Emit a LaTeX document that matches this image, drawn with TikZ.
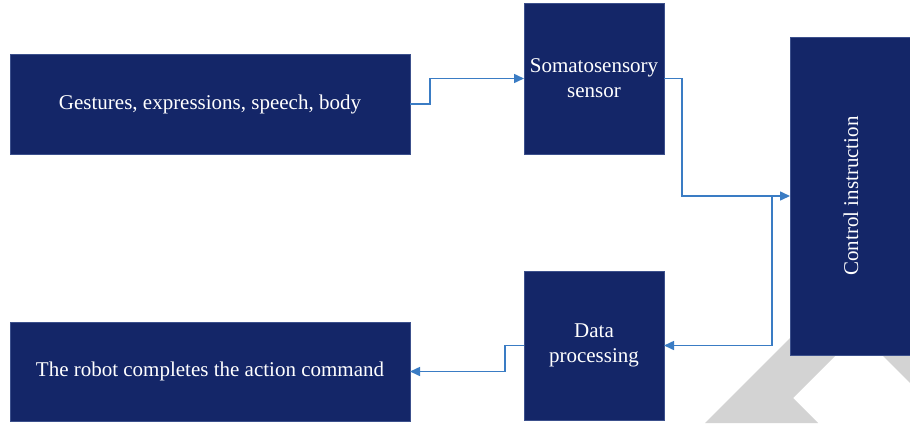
\documentclass[tikz,border=0pt]{standalone}
\usepackage{fontspec}
\setmainfont{Liberation Serif}
\usetikzlibrary{arrows.meta}
\definecolor{navy}{RGB}{20,38,104}
\definecolor{navyedge}{RGB}{60,80,140}
\definecolor{conncol}{RGB}{58,124,196}
\definecolor{wm}{RGB}{211,211,211}
\tikzset{
  box/.style={fill=navy, draw=navyedge, line width=0.8pt, inner sep=0pt, outer sep=0pt,
              text=white, align=center, font=\fontsize{21}{25}\selectfont},
  conn/.style={draw=conncol, line width=1.5pt, -{Triangle[length=10pt,width=9pt]}}
}
\begin{document}
\begin{tikzpicture}[x=1pt,y=-1pt]
\useasboundingbox (0,0) rectangle (910,423);
\fill[white] (0,0) rectangle (910,423);
\begin{scope}
\clip (0,0) rectangle (910,423);
\fill[wm] (705,423) -- (860,268) -- (923,268) -- (793,398) -- (818,423) -- cycle;
\fill[wm] (870,343) -- (925,398) -- (925,343) -- cycle;
\end{scope}
\node[box, minimum width=400pt, minimum height=100pt] (g) at (210,104) {Gestures, expressions, speech, body};
\node[box, minimum width=140pt, minimum height=151pt] (s) at (594,78.5) {Somatosensory\\sensor};
\node[box, minimum width=122pt, minimum height=318pt] (c) at (851,196) {};
\node[text=white, font=\fontsize{21}{25}\selectfont, rotate=90] (ct) at (c.center) {Control instruction};
\node[box, minimum width=140pt, minimum height=149pt] (d) at (594,345.5) {Data\\processing};
\node[box, minimum width=400pt, minimum height=99pt] (r) at (210,371.5) {The robot completes the action command};
\coordinate (j) at (772,196);
\draw[conn] (g.east) -- ++(20,0) |- (s.west);
\draw[conn] (s.east) -- (682,78.5) |- (c.west);
\draw[conn] (j) |- (d.east);
\draw[conn] (d.west) -- (505,345.5) |- (r.east);
\end{tikzpicture}
\end{document}
